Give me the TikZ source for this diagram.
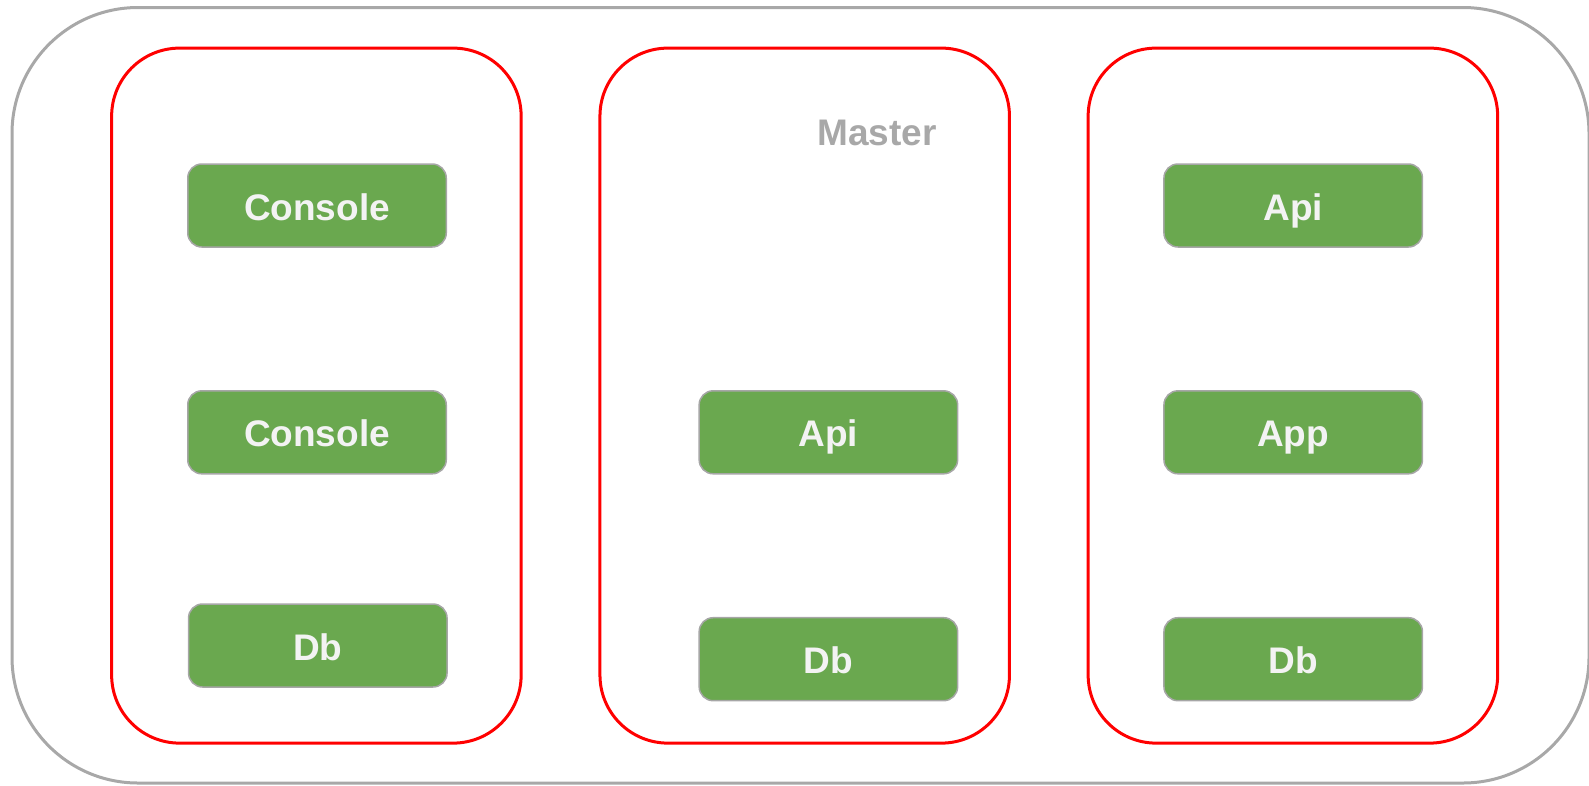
\documentclass[tikz,border=0pt]{standalone}
\usepackage{fontspec}
\setmainfont{Liberation Sans}
\definecolor{framegray}{HTML}{A8A8A8}
\definecolor{boxgreen}{HTML}{6AA84F}
\definecolor{boxtext}{HTML}{F3F3F3}
\definecolor{boxline}{HTML}{A6A6A6}
\tikzset{
  outerframe/.style={draw=framegray, line width=3pt, rounded corners=126pt,
    minimum width=1577pt, minimum height=775.5pt, inner sep=0pt, outer sep=0pt},
  group/.style={draw=red, line width=3pt, rounded corners=68pt,
    minimum width=409.5pt, minimum height=695pt, inner sep=0pt, outer sep=0pt},
  svc/.style={draw=boxline, line width=1.5pt, fill=boxgreen, rounded corners=14pt,
    minimum width=258.5pt, minimum height=83pt, inner sep=0pt, outer sep=0pt,
    text=boxtext, font=\fontsize{37}{40}\selectfont\bfseries,
    text height=29pt, text depth=0pt},
  tag/.style={text=framegray, font=\fontsize{37}{40}\selectfont\bfseries,
    inner sep=0pt, text height=26.5pt, text depth=0pt}
}
\begin{document}
\begin{tikzpicture}[x=1pt, y=-1pt]
  \useasboundingbox (0,0) rectangle (1589,785);
  \clip (0,0) rectangle (1589,785);

  % outer frame
  \node[outerframe] (frame) at (800.5,395.25) {};

  % three groups
  \node[group] (g1) at (316.4,395.6) {};
  \node[group] (g2) at (804.7,395.6) {};
  \node[group] (g3) at (1292.9,395.6) {};

  \node[tag] (master) at (877,132.5) {Master};

  % left group
  \node[svc] (c1) at (317,205.5) {Console};
  \node[svc] (c2) at (317,432.3) {Console};
  \node[svc] (d1) at (317.8,645.5) {Db};

  % middle group
  \node[svc] (a2) at (828.4,432.3) {Api};
  \node[svc] (d2) at (828.4,659.2) {Db};

  % right group
  \node[svc] (a3) at (1293.2,205.5) {Api};
  \node[svc] (p3) at (1293.2,432.3) {App};
  \node[svc] (d3) at (1293.2,659.2) {Db};
\end{tikzpicture}
\end{document}
